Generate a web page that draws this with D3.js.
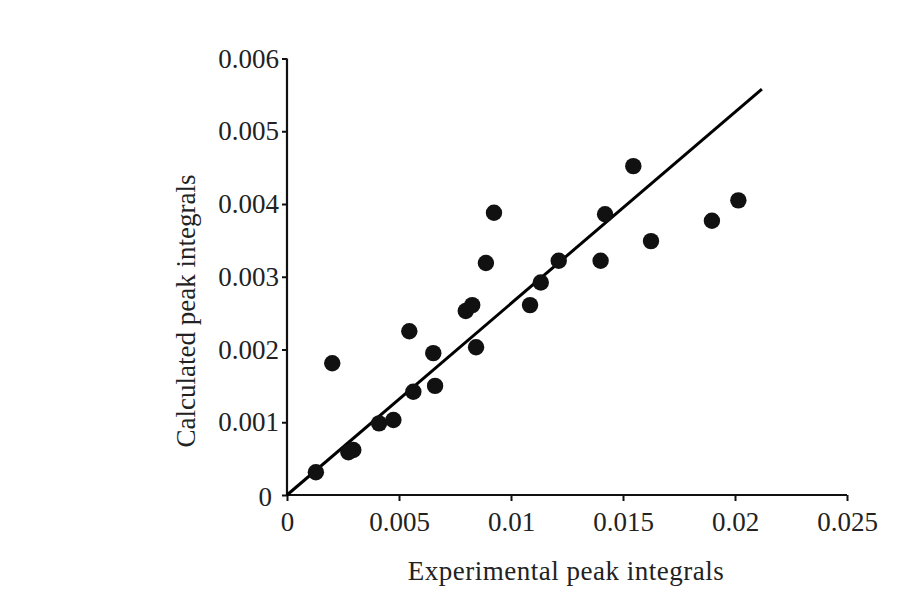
<!DOCTYPE html>
<html lang="en">

<head>
    <meta charset="UTF-8">
    <title>Peak integrals</title>
    <script src="https://d3js.org/d3.v7.min.js"></script>
    <style>
        body { margin: 0; background: #fff; }
        text { font-family: "Liberation Serif", "Times New Roman", serif; fill: #222; }
    </style>
</head>

<body>

    <div id="chart"></div>

    <script>
        const width = 900;
        const height = 610;

        // experimental (x) vs calculated (y) peak integrals
        const experimental = [0.00129, 0.00202, 0.00274, 0.00296, 0.00411, 0.00475, 0.00546, 0.00564,
            0.00653, 0.00661, 0.00798, 0.00827, 0.00844, 0.00888, 0.00924, 0.01085, 0.01133, 0.01213,
            0.01400, 0.01420, 0.01546, 0.01625, 0.01897, 0.02015];
        const calculated = [0.000312, 0.00181, 0.000587, 0.000618, 0.000985, 0.00103, 0.00225, 0.00142,
            0.00195, 0.00150, 0.00253, 0.00261, 0.00203, 0.00319, 0.00388, 0.00261, 0.00292, 0.00322,
            0.00322, 0.00386, 0.00452, 0.00349, 0.00377, 0.00405];

        // fitted line endpoints
        const fitX = [0, 0.0212];
        const fitY = [0, 0.00558];

        const xTicks = [0, 0.005, 0.01, 0.015, 0.02, 0.025];
        const yTicks = [0, 0.001, 0.002, 0.003, 0.004, 0.005, 0.006];

        const margin = { top: 58.5, right: 53, bottom: 115, left: 287 };

        const svg = d3.select("#chart")
            .append("svg")
            .attr("width", width)
            .attr("height", height)
            .style("display", "block");

        const x = d3.scaleLinear()
            .domain([0, 0.025])
            .range([margin.left, width - margin.right]);

        const y = d3.scaleLinear()
            .domain([0, 0.006])
            .range([height - margin.bottom, margin.top]);

        const fmt = d => d === 0 ? "0" : String(+d.toFixed(3));

        // x axis
        const xaxis = svg.append("g")
            .attr("transform", `translate(0, ${y(0)})`)
            .call(d3.axisBottom(x).tickValues(xTicks).tickFormat(fmt).tickSize(6).tickPadding(11));

        // y axis
        const yaxis = svg.append("g")
            .attr("transform", `translate(${x(0)}, 0)`)
            .call(d3.axisLeft(y).tickValues(yTicks).tickFormat(fmt).tickSize(5).tickPadding(3));

        [xaxis, yaxis].forEach(a => {
            a.select(".domain").attr("stroke", "#111").attr("stroke-width", 2.2);
            a.selectAll(".tick line").attr("stroke", "#111").attr("stroke-width", 2);
            a.selectAll(".tick text")
                .attr("font-size", 27)
                .attr("font-family", "Liberation Serif, Times New Roman, serif")
                .attr("fill", "#222");
        });
        xaxis.select(".domain").attr("d", `M${x(0)},0H${x(0.025)}`);
        yaxis.select(".domain").attr("d", `M0,${y(0)}V${y(0.006)}`);
        // the zero label on y sits a bit further out
        yaxis.selectAll(".tick text").filter(d => d === 0).attr("dx", "-7").attr("dy", "0.38em");

        // regression line
        svg.append("line")
            .attr("x1", x(fitX[0]))
            .attr("y1", y(fitY[0]))
            .attr("x2", x(fitX[1]))
            .attr("y2", y(fitY[1]))
            .attr("stroke", "#000")
            .attr("stroke-width", 3);

        // points
        svg.append("g")
            .selectAll("circle")
            .data(experimental.map((v, i) => [v, calculated[i]]))
            .enter()
            .append("circle")
            .attr("cx", d => x(d[0]))
            .attr("cy", d => y(d[1]))
            .attr("r", 8.2)
            .attr("fill", "#111");

        // axis titles
        svg.append("text")
            .attr("x", 566)
            .attr("y", 580)
            .attr("text-anchor", "middle")
            .attr("font-size", 27)
            .attr("letter-spacing", 0.5)
            .text("Experimental peak integrals");

        svg.append("text")
            .attr("transform", "translate(195, 311) rotate(-90)")
            .attr("text-anchor", "middle")
            .attr("font-size", 27)
            .text("Calculated peak integrals");

    </script>
</body>

</html>
